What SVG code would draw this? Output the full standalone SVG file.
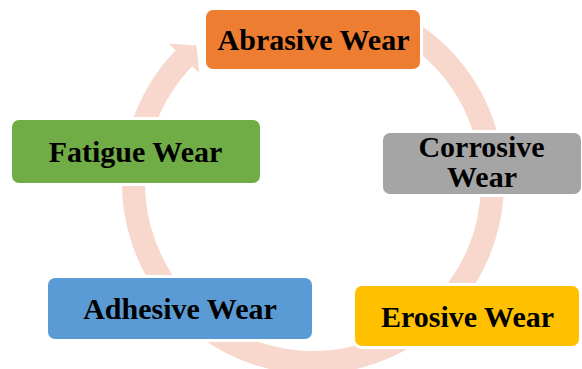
<svg xmlns="http://www.w3.org/2000/svg" width="582" height="369" viewBox="0 0 582 369">
  <style>
    .ring { fill: #F8D8CD; }
    .box { stroke: #ffffff; stroke-width: 6; paint-order: stroke; }
    .label { font-family: "Liberation Serif", "Times New Roman", serif; font-weight: bold; font-size: 30px; fill: #000000; text-anchor: middle; }
  </style>
  <rect width="582" height="369" fill="#ffffff"/>

  <!-- circular block arrow running clockwise behind the nodes -->
  <g id="connectors">
    <path class="ring" d="M414.2,21.0 A191,191 0 1 1 175.6,50.3 L168.4,43.4 L196.4,45.4 L199.4,73.2 L192.2,66.3 A168,168 0 1 0 402.0,40.5 Z"/>
  </g>

  <g id="abrasive">
    <rect class="box" x="206" y="10" width="214" height="59" rx="7" fill="#ED7D31"/>
    <text class="label" x="313.5" y="49.5">Abrasive Wear</text>
  </g>

  <g id="corrosive">
    <rect class="box" x="383" y="133" width="198" height="61" rx="7" fill="#A5A5A5"/>
    <text class="label" x="481.5" y="156.5">Corrosive</text>
    <text class="label" x="482" y="186.5">Wear</text>
  </g>

  <g id="erosive">
    <rect class="box" x="355" y="286" width="224" height="60" rx="7" fill="#FFC000"/>
    <text class="label" x="467.5" y="326.5">Erosive Wear</text>
  </g>

  <g id="adhesive">
    <rect class="box" x="48" y="278" width="264" height="61" rx="7" fill="#5B9BD5"/>
    <text class="label" x="180" y="318.5">Adhesive Wear</text>
  </g>

  <g id="fatigue">
    <rect class="box" x="12" y="120" width="248" height="63" rx="7" fill="#70AD47"/>
    <text class="label" x="135.5" y="161.5">Fatigue Wear</text>
  </g>
</svg>
